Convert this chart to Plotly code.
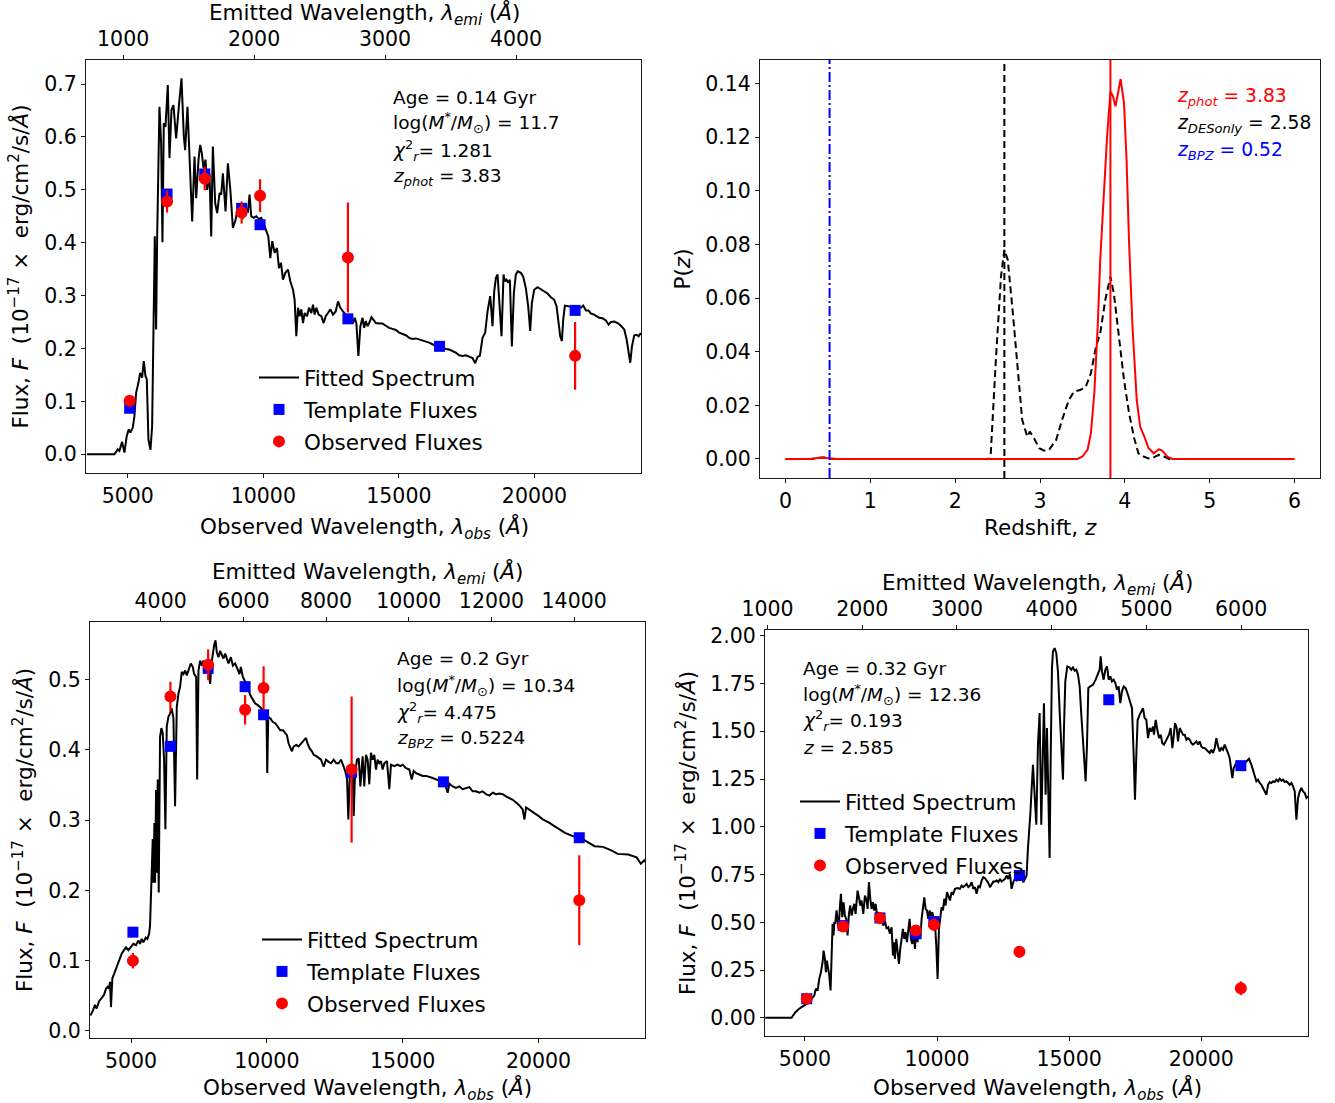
import plotly.graph_objects as go

W, H = 1335, 1103
FONT = "DejaVu Sans"

# ---------------- data ----------------
filter_wave = [5070, 6450, 7840, 9200, 9880, 13120, 16500, 21500]
obs_wave = [5070, 6450, 7840, 9200, 9880, 13120, 21500]

# Panel A : fit at z_phot
a_z = 3.83
a_wave = [3500, 4508, 4631, 4692, 4791, 4877, 4963, 5037, 5098, 5185, 5246, 5308, 5394, 5455, 5529, 5591, 5652, 5702,
          5763, 5837, 5899, 5960, 5997, 6046, 6083, 6169, 6231, 6280, 6329, 6391, 6477, 6539, 6613, 6686, 6785, 6883,
          6982, 7068, 7117, 7203, 7302, 7376, 7462, 7524, 7610, 7672, 7733, 7794, 7868, 7930, 8016, 8078, 8139, 8225,
          8299, 8385, 8447, 8509, 8607, 8693, 8779, 8878, 8976, 9062, 9148, 9247, 9345, 9432, 9493, 9555, 9641, 9739,
          9838, 9924, 10010, 10109, 10183, 10257, 10331, 10417, 10503, 10577, 10651, 10725, 10811, 10909, 10995, 11094,
          11155, 11217, 11279, 11340, 11402, 11463, 11525, 11611, 11685, 11771, 11832, 11894, 11955, 12041, 12140,
          12226, 12300, 12386, 12472, 12571, 12669, 12755, 12841, 12940, 13038, 13124, 13211, 13309, 13371, 13432,
          13506, 13580, 13657, 13719, 13780, 13842, 13903, 13989, 14051, 14149, 14272, 14395, 14518, 14641, 14764,
          14887, 15010, 15133, 15256, 15379, 15502, 15625, 15748, 15871, 15994, 16117, 16240, 16363, 16609, 16732,
          16855, 16978, 17101, 17224, 17347, 17470, 17593, 17716, 17814, 17901, 17987, 18085, 18183, 18270, 18368,
          18454, 18516, 18577, 18639, 18700, 18786, 18860, 18909, 18971, 19032, 19094, 19167, 19241, 19315, 19388,
          19499, 19585, 19683, 19769, 19843, 19905, 19991, 20114, 20237, 20360, 20483, 20606, 20729, 20815, 20889,
          20951, 21012, 21062, 21123, 21221, 21344, 21529, 21714, 21800, 21898, 21997, 22083, 22206, 22292, 22390,
          22513, 22636, 22734, 22821, 22944, 23067, 23190, 23312, 23400, 23473, 23534, 23596, 23681, 23768, 23841,
          23903, 24000]
a_flux = [0, 0, 0.0094, 0.0063, 0.0233, 0.0031, 0.0346, 0.047, 0.041, 0.050, 0.072, 0.116, 0.135, 0.154, 0.145, 0.176,
          0.148, 0.142, 0.028, 0.0082, 0.053, 0.230, 0.412, 0.236, 0.406, 0.657, 0.588, 0.401, 0.626, 0.619, 0.698,
          0.560, 0.651, 0.660, 0.597, 0.657, 0.711, 0.601, 0.575, 0.657, 0.538, 0.440, 0.563, 0.484, 0.557, 0.585,
          0.569, 0.541, 0.557, 0.500, 0.531, 0.412, 0.582, 0.475, 0.456, 0.494, 0.491, 0.531, 0.459, 0.550, 0.503,
          0.428, 0.443, 0.469, 0.450, 0.447, 0.462, 0.459, 0.491, 0.450, 0.447, 0.450, 0.445, 0.447, 0.437, 0.421,
          0.412, 0.371, 0.403, 0.381, 0.390, 0.352, 0.362, 0.330, 0.343, 0.349, 0.327, 0.311, 0.292, 0.223, 0.277,
          0.261, 0.274, 0.248, 0.267, 0.261, 0.277, 0.267, 0.283, 0.264, 0.277, 0.264, 0.261, 0.248, 0.261, 0.267,
          0.274, 0.264, 0.270, 0.289, 0.277, 0.270, 0.264, 0.258, 0.255, 0.248, 0.258, 0.248, 0.186, 0.242, 0.258,
          0.239, 0.252, 0.242, 0.248, 0.259, 0.255, 0.248, 0.247, 0.247, 0.243, 0.239, 0.237, 0.235, 0.230, 0.228,
          0.225, 0.220, 0.218, 0.219, 0.217, 0.216, 0.214, 0.211, 0.208, 0.204, 0.203, 0.199, 0.198, 0.195, 0.192,
          0.187, 0.186, 0.187, 0.184, 0.182, 0.172, 0.184, 0.186, 0.220, 0.230, 0.270, 0.299, 0.242, 0.308, 0.333,
          0.340, 0.299, 0.223, 0.340, 0.327, 0.330, 0.324, 0.330, 0.204, 0.305, 0.340, 0.346, 0.343, 0.336, 0.314,
          0.280, 0.233, 0.286, 0.311, 0.316, 0.312, 0.308, 0.304, 0.297, 0.292, 0.280, 0.248, 0.223, 0.214, 0.255,
          0.281, 0.280, 0.280, 0.277, 0.277, 0.281, 0.272, 0.272, 0.266, 0.264, 0.261, 0.258, 0.257, 0.253, 0.245,
          0.250, 0.251, 0.248, 0.243, 0.236, 0.217, 0.192, 0.173, 0.204, 0.225, 0.226, 0.223, 0.228, 0.226]
a_template = [0.087, 0.492, 0.530, 0.465, 0.434, 0.256, 0.204, 0.272]
a_obs = [0.101, 0.478, 0.521, 0.457, 0.489, 0.372, 0.186]
a_obs_err = [0.011, 0.021, 0.022, 0.021, 0.031, 0.104, 0.064]
a_text = ["Age = 0.14 Gyr", "log(<i>M</i><sup>*</sup>/<i>M</i><sub>⊙</sub>) = 11.7",
          "<i>χ</i><sup>2</sup><sub><i>r</i></sub>= 1.281", "<i>z<sub>phot</sub></i> = 3.83"]

# Panel B : fit at z_BPZ
b_z = 0.5224
b_wave = [3500, 3587, 3673, 3734, 3820, 3918, 4004, 4078, 4139, 4188, 4226, 4263, 4312, 4385, 4471, 4558, 4656, 4742,
          4816, 4902, 4988, 5086, 5184, 5270, 5332, 5393, 5455, 5541, 5602, 5664, 5700, 5762, 5799, 5823, 5860, 5885,
          5922, 5959, 5983, 6020, 6069, 6118, 6167, 6217, 6266, 6315, 6377, 6438, 6499, 6561, 6622, 6684, 6745, 6807,
          6868, 6930, 6991, 7052, 7139, 7200, 7274, 7323, 7397, 7434, 7483, 7544, 7606, 7667, 7729, 7790, 7851, 7913,
          7962, 8011, 8060, 8109, 8158, 8220, 8281, 8343, 8404, 8466, 8527, 8589, 8675, 8749, 8834, 8921, 8994, 9043,
          9117, 9203, 9289, 9388, 9474, 9572, 9658, 9756, 9855, 9941, 9990, 10014, 10051, 10125, 10211, 10309, 10395,
          10494, 10592, 10678, 10739, 10801, 10862, 10924, 10985, 11083, 11169, 11256, 11354, 11440, 11501, 11575,
          11661, 11723, 11821, 11907, 11993, 12091, 12177, 12276, 12362, 12460, 12558, 12644, 12730, 12829, 12890,
          12951, 13000, 13050, 13099, 13160, 13197, 13246, 13320, 13382, 13443, 13525, 13587, 13648, 13710, 13771,
          13832, 13894, 13955, 14017, 14078, 14139, 14201, 14262, 14324, 14422, 14508, 14569, 14692, 14815, 14913,
          14999, 15122, 15245, 15331, 15404, 15490, 15613, 15736, 15859, 15982, 16106, 16227, 16350, 16534, 16657,
          16718, 16841, 16964, 17087, 17209, 17332, 17455, 17578, 17701, 17823, 17946, 18069, 18192, 18315, 18437,
          18560, 18683, 18806, 18929, 19052, 19175, 19297, 19420, 19481, 19543, 19666, 19789, 19911, 20034, 20157,
          20280, 20402, 20525, 20648, 20771, 20976, 21286, 21518, 21751, 22061, 22371, 22682, 22914, 23302, 23612,
          23767, 23892, 23950]
b_flux = [0.022, 0.028, 0.037, 0.032, 0.042, 0.046, 0.051, 0.060, 0.063, 0.060, 0.070, 0.034, 0.075, 0.082, 0.091,
          0.100, 0.110, 0.115, 0.119, 0.115, 0.119, 0.124, 0.122, 0.129, 0.124, 0.131, 0.126, 0.133, 0.131, 0.138,
          0.150, 0.230, 0.273, 0.211, 0.296, 0.211, 0.343, 0.225, 0.358, 0.197, 0.419, 0.431, 0.424, 0.386, 0.287,
          0.433, 0.447, 0.452, 0.459, 0.445, 0.320, 0.461, 0.480, 0.490, 0.511, 0.508, 0.513, 0.506, 0.516, 0.523,
          0.518, 0.508, 0.504, 0.358, 0.513, 0.527, 0.520, 0.527, 0.518, 0.523, 0.516, 0.494, 0.523, 0.537, 0.549,
          0.556, 0.539, 0.532, 0.541, 0.535, 0.530, 0.537, 0.530, 0.523, 0.532, 0.520, 0.523, 0.516, 0.508, 0.518,
          0.504, 0.497, 0.490, 0.478, 0.473, 0.466, 0.464, 0.461, 0.457, 0.450, 0.442, 0.367, 0.447, 0.445, 0.440,
          0.438, 0.433, 0.428, 0.428, 0.424, 0.421, 0.409, 0.402, 0.398, 0.405, 0.407, 0.405, 0.409, 0.414, 0.417,
          0.409, 0.402, 0.398, 0.393, 0.391, 0.388, 0.386, 0.376, 0.386, 0.383, 0.381, 0.386, 0.381, 0.381, 0.386,
          0.376, 0.369, 0.358, 0.301, 0.362, 0.367, 0.362, 0.306, 0.367, 0.386, 0.388, 0.348, 0.391, 0.348, 0.393,
          0.386, 0.351, 0.396, 0.386, 0.393, 0.372, 0.386, 0.381, 0.384, 0.372, 0.381, 0.384, 0.344, 0.379, 0.377,
          0.379, 0.377, 0.379, 0.374, 0.372, 0.358, 0.370, 0.367, 0.365, 0.363, 0.363, 0.362, 0.360, 0.358, 0.356,
          0.3545, 0.339, 0.352, 0.348, 0.346, 0.348, 0.344, 0.345, 0.347, 0.341, 0.341, 0.339, 0.341, 0.337, 0.335,
          0.339, 0.337, 0.338, 0.337, 0.334, 0.332, 0.329, 0.325, 0.321, 0.315, 0.301, 0.318, 0.315, 0.312, 0.308,
          0.305, 0.301, 0.299, 0.296, 0.293, 0.290, 0.287, 0.282, 0.277, 0.275, 0.270, 0.263, 0.262, 0.257, 0.252,
          0.251, 0.247, 0.238, 0.243, 0.240]
b_template = [0.1406, 0.405, 0.516, 0.490, 0.450, 0.368, 0.3545, 0.275]
b_obs = [0.100, 0.476, 0.521, 0.457, 0.488, 0.372, 0.186]
b_obs_err = [0.011, 0.021, 0.022, 0.021, 0.031, 0.104, 0.064]
b_text = ["Age = 0.2 Gyr", "log(<i>M</i><sup>*</sup>/<i>M</i><sub>⊙</sub>) = 10.34",
          "<i>χ</i><sup>2</sup><sub><i>r</i></sub>= 4.475", "<i>z<sub>BPZ</sub></i> = 0.5224"]

# Panel C : fit at z_DESonly
c_z = 2.585
c_wave = [3500, 4495, 4621, 4748, 4874, 5000, 5126, 5252, 5353, 5416, 5480, 5543, 5606, 5669, 5707, 5757, 5795, 5833,
          5883, 5921, 5972, 6010, 6048, 6085, 6111, 6148, 6199, 6237, 6275, 6325, 6363, 6413, 6464, 6514, 6565, 6615,
          6666, 6716, 6767, 6817, 6868, 6918, 6994, 7044, 7095, 7145, 7209, 7272, 7335, 7373, 7423, 7474, 7524, 7575,
          7625, 7676, 7726, 7777, 7840, 7903, 7966, 8029, 8092, 8155, 8218, 8281, 8332, 8369, 8407, 8458, 8508, 8559,
          8609, 8660, 8710, 8761, 8811, 8862, 8912, 8963, 9013, 9064, 9114, 9165, 9215, 9266, 9316, 9367, 9417, 9468,
          9518, 9569, 9619, 9669, 9720, 9770, 9821, 9871, 9922, 9972, 10022, 10073, 10124, 10174, 10225, 10275, 10326,
          10376, 10427, 10490, 10553, 10616, 10679, 10780, 10868, 10931, 10995, 11058, 11121, 11184, 11247, 11310,
          11373, 11436, 11499, 11562, 11626, 11689, 11752, 11815, 11878, 11941, 12004, 12067, 12130, 12193, 12256,
          12319, 12382, 12445, 12508, 12571, 12634, 12697, 12760, 12823, 12886, 12949, 13012, 13075, 13138, 13201,
          13264, 13327, 13390, 13442, 13530, 13631, 13694, 13757, 13820, 13883, 13946, 14010, 14047, 14110, 14161,
          14211, 14262, 14300, 14350, 14388, 14451, 14514, 14577, 14641, 14704, 14767, 14805, 14855, 14931, 15019,
          15082, 15145, 15208, 15272, 15335, 15398, 15461, 15524, 15587, 15625, 15676, 15726, 15802, 15903, 16003,
          16092, 16155, 16193, 16243, 16306, 16369, 16433, 16496, 16559, 16622, 16685, 16748, 16811, 16874, 16937,
          17000, 17064, 17139, 17228, 17316, 17379, 17442, 17492, 17543, 17593, 17669, 17732, 17795, 17858, 17922,
          17985, 18048, 18111, 18174, 18212, 18275, 18338, 18401, 18464, 18527, 18591, 18654, 18717, 18780, 18843,
          18906, 18957, 19007, 19070, 19121, 19184, 19247, 19310, 19373, 19436, 19499, 19562, 19625, 19689, 19752,
          19815, 19878, 19941, 20004, 20067, 20130, 20193, 20257, 20320, 20383, 20446, 20509, 20572, 20635, 20698,
          20761, 20824, 20887, 20950, 21013, 21076, 21126, 21177, 21227, 21291, 21354, 21455, 21581, 21707, 21808,
          21897, 21960, 22023, 22086, 22149, 22212, 22276, 22339, 22402, 22465, 22528, 22591, 22654, 22717, 22780,
          22844, 22907, 22970, 23033, 23096, 23159, 23222, 23285, 23348, 23412, 23475, 23538, 23601, 23664, 23727,
          23790, 23853, 23916, 23979, 24042]
c_flux = [0, 0, 0.026, 0.044, 0.056, 0.065, 0.078, 0.099, 0.117, 0.152, 0.143, 0.204, 0.239, 0.291, 0.352, 0.309,
          0.239, 0.300, 0.256, 0.222, 0.143, 0.413, 0.492, 0.431, 0.501, 0.492, 0.562, 0.509, 0.466, 0.579, 0.649,
          0.527, 0.605, 0.535, 0.518, 0.431, 0.544, 0.588, 0.535, 0.570, 0.597, 0.544, 0.666, 0.631, 0.588, 0.614,
          0.544, 0.640, 0.614, 0.570, 0.710, 0.623, 0.570, 0.605, 0.562, 0.597, 0.544, 0.553, 0.518, 0.527, 0.483,
          0.509, 0.466, 0.474, 0.440, 0.474, 0.326, 0.396, 0.309, 0.413, 0.335, 0.283, 0.361, 0.431, 0.466, 0.413,
          0.448, 0.396, 0.474, 0.518, 0.413, 0.387, 0.448, 0.361, 0.466, 0.396, 0.474, 0.413, 0.518, 0.579, 0.631,
          0.570, 0.562, 0.518, 0.562, 0.535, 0.553, 0.518, 0.492, 0.379, 0.204, 0.466, 0.544, 0.579, 0.562, 0.623,
          0.588, 0.658, 0.640, 0.614, 0.658, 0.649, 0.675, 0.679, 0.675, 0.692, 0.684, 0.692, 0.701, 0.684, 0.692,
          0.710, 0.675, 0.684, 0.649, 0.692, 0.684, 0.719, 0.736, 0.731, 0.719, 0.706, 0.684, 0.701, 0.713, 0.713,
          0.719, 0.710, 0.727, 0.713, 0.719, 0.727, 0.745, 0.727, 0.754, 0.675, 0.710, 0.727, 0.719, 0.736, 0.754,
          0.745, 0.710, 0.727, 0.745, 0.889, 1.063, 1.325, 1.133, 1.011, 1.430, 1.595, 1.011, 1.377, 1.647, 1.168,
          1.517, 1.185, 0.837, 1.342, 1.831, 1.918, 1.935, 1.909, 1.813, 1.604, 1.377, 1.247, 1.517, 1.761, 1.839,
          1.834, 1.822, 1.834, 1.817, 1.822, 1.796, 1.735, 1.586, 1.430, 1.307, 1.238, 1.430, 1.726, 1.735, 1.743,
          1.770, 1.796, 1.822, 1.892, 1.813, 1.770, 1.822, 1.839, 1.770, 1.787, 1.761, 1.770, 1.752, 1.717, 1.735,
          1.647, 1.709, 1.735, 1.726, 1.691, 1.647, 1.621, 1.377, 1.142, 1.377, 1.560, 1.586, 1.604, 1.621, 1.569,
          1.560, 1.464, 1.517, 1.499, 1.525, 1.482, 1.560, 1.508, 1.464, 1.482, 1.438, 1.430, 1.447, 1.464, 1.482,
          1.517, 1.412, 1.473, 1.543, 1.517, 1.447, 1.517, 1.499, 1.482, 1.482, 1.456, 1.464, 1.456, 1.438, 1.430,
          1.438, 1.447, 1.430, 1.447, 1.421, 1.412, 1.412, 1.403, 1.395, 1.386, 1.403, 1.386, 1.412, 1.464, 1.421,
          1.395, 1.412, 1.403, 1.430, 1.412, 1.386, 1.360, 1.307, 1.255, 1.307, 1.325, 1.342, 1.334, 1.325, 1.342,
          1.356, 1.325, 1.299, 1.273, 1.238, 1.247, 1.229, 1.220, 1.203, 1.185, 1.168, 1.220, 1.234, 1.229, 1.238,
          1.234, 1.247, 1.238, 1.252, 1.241, 1.247, 1.234, 1.238, 1.229, 1.220, 1.229, 1.212, 1.185, 1.037, 1.151,
          1.185, 1.203, 1.185, 1.177, 1.151, 1.160]
c_template = [0.100, 0.483, 0.523, 0.440, 0.504, 0.745, 1.665, 1.320]
c_obs = [0.100, 0.478, 0.522, 0.457, 0.487, 0.346, 0.155]
c_obs_err = [0.011, 0.021, 0.022, 0.021, 0.031, 0.030, 0.036]
c_text = ["Age = 0.32 Gyr", "log(<i>M</i><sup>*</sup>/<i>M</i><sub>⊙</sub>) = 12.36",
          "<i>χ</i><sup>2</sup><sub><i>r</i></sub>= 0.193", "<i>z</i> = 2.585"]

# P(z) panel
pz_des_z = [0, 0.30, 0.38, 0.45, 0.52, 0.60, 2.40, 2.42, 2.48, 2.54, 2.58, 2.62, 2.68, 2.74, 2.79, 2.85, 2.88, 2.93,
            2.99, 3.05, 3.11, 3.19, 3.26, 3.34, 3.40, 3.48, 3.54, 3.60, 3.66, 3.71, 3.77, 3.83, 3.87, 3.93, 3.99,
            4.05, 4.11, 4.16, 4.22, 4.28, 4.34, 4.40, 4.46, 4.52, 6.0]
pz_des_p = [0, 0, 0.0004, 0.0005, 0.0002, 0, 0, 0.0021, 0.037, 0.068, 0.078, 0.0743, 0.0544, 0.0332, 0.0146, 0.0083,
            0.0102, 0.0077, 0.0040, 0.0031, 0.0036, 0.0071, 0.0146, 0.022, 0.0251, 0.0258, 0.027, 0.032, 0.0419,
            0.0469, 0.0594, 0.068, 0.0618, 0.0457, 0.0295, 0.017, 0.0077, 0.0021, 0.0009, 0.0002, 0.0006, 0.0015,
            0.0009, 0, 0]
pz_all_z = [0, 0.30, 0.38, 0.45, 0.52, 0.60, 3.44, 3.50, 3.56, 3.60, 3.64, 3.68, 3.71, 3.75, 3.79, 3.83, 3.86, 3.89,
            3.92, 3.95, 3.99, 4.02, 4.05, 4.09, 4.14, 4.18, 4.23, 4.28, 4.34, 4.40, 4.44, 4.50, 4.56, 6.0]
pz_all_p = [0, 0, 0.0004, 0.0005, 0.0002, 0, 0, 0.0009, 0.0034, 0.0096, 0.0245, 0.0494, 0.0743, 0.0992, 0.120, 0.137,
            0.1353, 0.1315, 0.1365, 0.1417, 0.1328, 0.1116, 0.0805, 0.0494, 0.022, 0.0121, 0.0083, 0.004, 0.0021,
            0.0036, 0.0031, 0.0009, 0, 0]
z_phot, z_desonly, z_bpz = 3.83, 2.58, 0.52
pz_labels = ["<i>z<sub>phot</sub></i> = 3.83", "<i>z<sub>DESonly</sub></i> = 2.58", "<i>z<sub>BPZ</sub></i> = 0.52"]
pz_colors = ["red", "black", "blue"]

# ---------------- figure ----------------
def fx(px):
    return px / W


def fy(py):
    return 1 - py / H


TICKFONT = dict(family=FONT, size=20.5, color="black")
TITLEFONT = dict(family=FONT, size=21.5, color="black")
LINEC = "#1a1a1a"


def base_axis(**kw):
    d = dict(showline=True, linecolor=LINEC, linewidth=1.2, ticks="outside", ticklen=4, tickwidth=1.2,
             tickcolor=LINEC, tickfont=TICKFONT, showgrid=False, zeroline=False, automargin=False,
             ticklabelstandoff=0)
    d.update(kw)
    return d


XOBS_T = "Observed Wavelength, <i>λ<sub>obs</sub></i> (<i>Å</i>)"
XEMI_T = "Emitted Wavelength, <i>λ<sub>emi</sub></i> (<i>Å</i>)"
YFLUX_T = "Flux, <i>F</i>&nbsp; (10<sup>−17</sup> × &nbsp;erg/cm<sup>2</sup>/s/<i>Å</i>)"

fig = go.Figure()

sed_panels = [
    dict(z=a_z, wave=a_wave, flux=a_flux, tmpl=a_template, obs=a_obs, err=a_obs_err, text=a_text,
         xa="x", ya="y", xt="x2", legend="legend"),
    dict(z=b_z, wave=b_wave, flux=b_flux, tmpl=b_template, obs=b_obs, err=b_obs_err, text=b_text,
         xa="x4", ya="y4", xt="x5", legend="legend2"),
    dict(z=c_z, wave=c_wave, flux=c_flux, tmpl=c_template, obs=c_obs, err=c_obs_err, text=c_text,
         xa="x6", ya="y6", xt="x7", legend="legend3"),
]

for p in sed_panels:
    fig.add_trace(go.Scatter(x=p["wave"], y=p["flux"], mode="lines", name="Fitted Spectrum",
                             line=dict(color="black", width=2), xaxis=p["xa"], yaxis=p["ya"],
                             legend=p["legend"], legendgroup="a" + p["legend"]))
    fig.add_trace(go.Scatter(x=filter_wave, y=p["tmpl"], mode="markers", name="Template Fluxes",
                             marker=dict(symbol="square", size=11, color="blue"), xaxis=p["xa"], yaxis=p["ya"],
                             legend=p["legend"], legendgroup="b" + p["legend"]))
    fig.add_trace(go.Scatter(x=obs_wave, y=p["obs"], mode="markers", name="Observed Fluxes",
                             marker=dict(symbol="circle", size=12, color="red"),
                             error_y=dict(type="data", array=p["err"], color="red", thickness=2.2, width=0),
                             xaxis=p["xa"], yaxis=p["ya"], legend=p["legend"], legendgroup="c" + p["legend"]))
    # invisible trace for emitted-wavelength top axis
    fig.add_trace(go.Scatter(x=[p["wave"][0] / (1 + p["z"]), p["wave"][-1] / (1 + p["z"])], y=[0, 0],
                             mode="lines", line=dict(width=0), opacity=0, showlegend=False, hoverinfo="skip",
                             xaxis=p["xt"], yaxis=p["ya"]))

# P(z)
fig.add_trace(go.Scatter(x=pz_des_z, y=pz_des_p, mode="lines", line=dict(color="black", width=2, dash="7px,4px"),
                         showlegend=False, xaxis="x3", yaxis="y3"))
fig.add_trace(go.Scatter(x=pz_all_z, y=pz_all_p, mode="lines", line=dict(color="red", width=2),
                         showlegend=False, xaxis="x3", yaxis="y3"))

shapes = []
for zval, col, dash in [(z_bpz, "blue", "10px,3px,2px,3px"), (z_desonly, "black", "7px,4px"),
                        (z_phot, "red", "solid")]:
    shapes.append(dict(type="line", xref="x3", yref="y3 domain", x0=zval, x1=zval, y0=0, y1=1,
                       line=dict(color=col, width=2, dash=dash)))

# ---------------- layout ----------------
# panel boxes (pixels): left, right, top, bottom
boxA = (86, 641, 60, 473)
boxP = (760, 1320, 60, 478)
boxB = (90, 645, 622, 1038)
boxC = (765, 1308, 630, 1036)

xr_A = [3460, 23930]
xr_B = [3490, 23920]
xr_C = [3490, 24040]

TOPSTYLE = dict(ticklabelstandoff=1)

layout = dict(
    width=W, height=H, margin=dict(l=0, r=0, t=0, b=0), paper_bgcolor="white", plot_bgcolor="white",
    font=dict(family=FONT, size=19, color="black"), showlegend=True,
    xaxis=base_axis(domain=[fx(boxA[0]), fx(boxA[1])], anchor="y", range=xr_A, mirror=True, tickformat="d",
                    tickvals=[5000, 10000, 15000, 20000]),
    xaxis2=base_axis(overlaying="x", side="top", anchor="y", range=[v / (1 + a_z) for v in xr_A], tickformat="d",
                     tickvals=[1000, 2000, 3000, 4000], **TOPSTYLE),
    yaxis=base_axis(domain=[fy(boxA[3]), fy(boxA[2])], anchor="x", range=[-0.0355, 0.7455], mirror=True,
                    tickvals=[0, 0.1, 0.2, 0.3, 0.4, 0.5, 0.6, 0.7], tickformat=".1f",
                    title=dict(text=YFLUX_T, font=TITLEFONT, standoff=9)),
    xaxis3=base_axis(domain=[fx(boxP[0]), fx(boxP[1])], anchor="y3", range=[-0.3, 6.3], mirror=True,
                     tickvals=[0, 1, 2, 3, 4, 5, 6]),
    yaxis3=base_axis(domain=[fy(boxP[3]), fy(boxP[2])], anchor="x3", range=[-0.0071, 0.1488], mirror=True,
                     tickvals=[0, 0.02, 0.04, 0.06, 0.08, 0.10, 0.12, 0.14], tickformat=".2f",
                     title=dict(text="P(<i>z</i>)", font=TITLEFONT, standoff=8)),
    xaxis4=base_axis(domain=[fx(boxB[0]), fx(boxB[1])], anchor="y4", range=xr_B, mirror=True, tickformat="d",
                     tickvals=[5000, 10000, 15000, 20000]),
    xaxis5=base_axis(overlaying="x4", side="top", anchor="y4", range=[v / (1 + b_z) for v in xr_B], tickformat="d",
                     tickvals=[4000, 6000, 8000, 10000, 12000, 14000], **TOPSTYLE),
    yaxis4=base_axis(domain=[fy(boxB[3]), fy(boxB[2])], anchor="x4", range=[-0.01, 0.582], mirror=True,
                     tickvals=[0, 0.1, 0.2, 0.3, 0.4, 0.5], tickformat=".1f",
                     title=dict(text=YFLUX_T, font=TITLEFONT, standoff=9)),
    xaxis6=base_axis(domain=[fx(boxC[0]), fx(boxC[1])], anchor="y6", range=xr_C, mirror=True, tickformat="d",
                     tickvals=[5000, 10000, 15000, 20000]),
    xaxis7=base_axis(overlaying="x6", side="top", anchor="y6", range=[v / (1 + c_z) for v in xr_C], tickformat="d",
                     tickvals=[1000, 2000, 3000, 4000, 5000, 6000], **TOPSTYLE),
    yaxis6=base_axis(domain=[fy(boxC[3]), fy(boxC[2])], anchor="x6", range=[-0.095, 2.03], mirror=True,
                     tickvals=[0, 0.25, 0.5, 0.75, 1.0, 1.25, 1.5, 1.75, 2.0], tickformat=".2f",
                     title=dict(text=YFLUX_T, font=TITLEFONT, standoff=8)),
    shapes=shapes,
)

LEGFONT = dict(family=FONT, size=21.5, color="black")
for name, (tx, ty) in [("legend", (304, 357)), ("legend2", (307, 919)), ("legend3", (845, 781))]:
    layout[name] = dict(x=fx(tx - 50), y=fy(ty), xanchor="left", yanchor="top", bgcolor="rgba(0,0,0,0)",
                        borderwidth=0, font=LEGFONT, itemwidth=40, tracegroupgap=1, traceorder="grouped")

annotations = []
# x-axis titles (bottom: observed wavelength / redshift; top: emitted wavelength)
for t, cx, cy in [(XOBS_T, 364, 528), (XEMI_T, 364, 14), ("Redshift, <i>z</i>", 1040, 527),
                  (XOBS_T, 367, 1089), (XEMI_T, 367, 573), (XOBS_T, 1037, 1089), (XEMI_T, 1037, 584)]:
    annotations.append(dict(text=t, x=fx(cx), y=fy(cy), xref="paper", yref="paper", xanchor="center",
                            yanchor="middle", showarrow=False, font=TITLEFONT))
for texts, (tx, rows) in [(a_text, (391, [97, 123, 150, 177])), (b_text, (395, [658, 685, 712, 739])),
                          (c_text, (801, [668, 694, 720, 747]))]:
    for t, ry in zip(texts, rows):
        annotations.append(dict(text=t, x=fx(tx), y=fy(ry), xref="paper", yref="paper", xanchor="left",
                                yanchor="middle", showarrow=False, font=dict(family=FONT, size=18.5, color="black")))
for t, col, ry in zip(pz_labels, pz_colors, [97, 124, 151]):
    annotations.append(dict(text=t, x=fx(1175), y=fy(ry), xref="paper", yref="paper", xanchor="left",
                            yanchor="middle", showarrow=False, font=dict(family=FONT, size=18.7, color=col)))
layout["annotations"] = annotations

fig.update_layout(**layout)
fig.write_html("out.html")
